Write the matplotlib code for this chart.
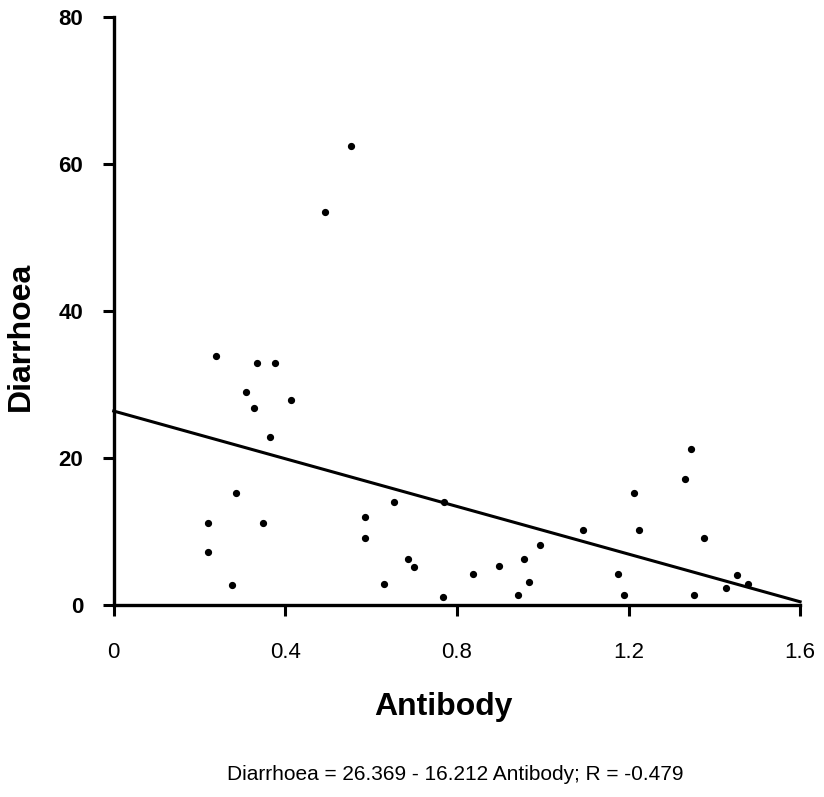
import numpy as np
import matplotlib.pyplot as plt

plt.rcParams['font.family'] = ['Liberation Sans', 'DejaVu Sans']

antibody = [0.219, 0.219, 0.238, 0.275, 0.285, 0.308, 0.327, 0.333, 0.348, 0.364,
            0.377, 0.414, 0.492, 0.553, 0.585, 0.585, 0.630, 0.653, 0.686, 0.700,
            0.767, 0.770, 0.837, 0.898, 0.942, 0.956, 0.968, 0.994, 1.093, 1.175,
            1.189, 1.212, 1.225, 1.331, 1.346, 1.353, 1.376, 1.427, 1.453, 1.478]
diarrhoea = [11.2, 7.2, 33.9, 2.7, 15.2, 29.0, 26.8, 32.9, 11.2, 22.8,
             32.9, 27.9, 53.5, 62.4, 11.9, 9.1, 2.9, 14.0, 6.2, 5.2,
             1.1, 14.0, 4.2, 5.3, 1.3, 6.3, 3.1, 8.2, 10.2, 4.2,
             1.3, 15.2, 10.2, 17.1, 21.2, 1.3, 9.1, 2.3, 4.1, 2.9]

intercept = 26.369
slope = -16.212
xticks = [0, 0.4, 0.8, 1.2, 1.6]
yticks = [0, 20, 40, 60, 80]

fig = plt.figure(figsize=(8.24, 7.97), dpi=100)
ax = fig.add_axes([0.138, 0.241, 0.833, 0.738])

ax.plot(antibody, diarrhoea, 'o', color='black', markersize=4.2, clip_on=False)
xs = np.array([0, 1.6])
ax.plot(xs, intercept + slope * xs, color='black', linewidth=2.2, clip_on=False)

ax.set_xlim(0, 1.6)
ax.set_ylim(0, 80)
ax.set_xticks(xticks)
ax.set_xticklabels(['0', '0.4', '0.8', '1.2', '1.6'])
ax.set_yticks(yticks)
for s in ['top', 'right']:
    ax.spines[s].set_visible(False)
for s in ['left', 'bottom']:
    ax.spines[s].set_linewidth(2.4)
ax.tick_params(axis='both', direction='out', length=8, width=2.2, labelsize=16)
ax.tick_params(axis='x', pad=19)
ax.tick_params(axis='y', pad=14)
for lbl in ax.get_yticklabels():
    lbl.set_fontweight('bold')

ax.set_xlabel('Antibody', fontsize=23, fontweight='bold')
ax.set_ylabel('Diarrhoea', fontsize=23, fontweight='bold')
ax.xaxis.set_label_coords(0.481, -0.148)
ax.yaxis.set_label_coords(-0.114, 0.456)

fig.text(0.553, 0.028, 'Diarrhoea = 26.369 - 16.212 Antibody; R = -0.479',
         ha='center', va='center', fontsize=15)

plt.savefig('out.png', dpi=100)
